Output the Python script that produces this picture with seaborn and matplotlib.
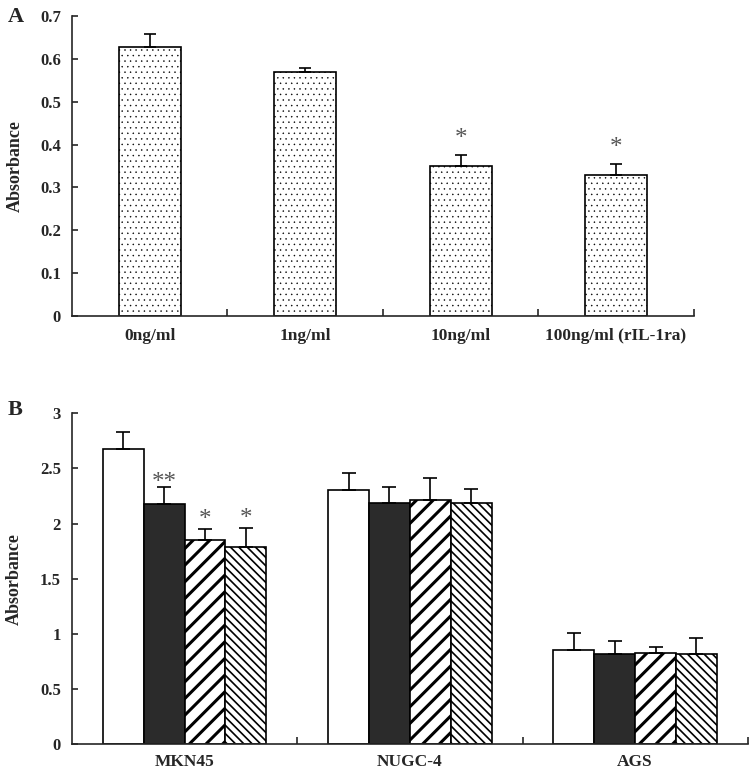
import seaborn as sns
import numpy as np
import pandas as pd
import matplotlib
matplotlib.use("Agg")
import matplotlib.pyplot as plt

sns.set_style("ticks")
plt.rcParams['font.family'] = ['Liberation Serif', 'DejaVu Serif']
plt.rcParams['font.weight'] = 'bold'
plt.rcParams['hatch.linewidth'] = 1.0

# panel A data
doses_a = ["0ng/ml", "1ng/ml", "10ng/ml", "100ng/ml (rIL-1ra)"]
absorb_a = [0.628, 0.570, 0.349, 0.330]
err_a = [0.031, 0.008, 0.027, 0.025]
star_a = ["", "", "*", "*"]

# panel B data
cells = ["MKN45", "NUGC-4", "AGS"]
groups = ["0ng/ml", "1ng/ml", "10ng/ml", "100ng/ml"]
absorb_b = {
    "0ng/ml":   [2.68, 2.305, 0.855],
    "1ng/ml":   [2.175, 2.185, 0.82],
    "10ng/ml":  [1.852, 2.218, 0.83],
    "100ng/ml": [1.79, 2.185, 0.82],
}
err_b = {
    "0ng/ml":   [0.15, 0.152, 0.151],
    "1ng/ml":   [0.155, 0.15, 0.12],
    "10ng/ml":  [0.10, 0.20, 0.055],
    "100ng/ml": [0.17, 0.13, 0.14],
}
star_b = {
    "0ng/ml":   ["", "", ""],
    "1ng/ml":   ["**", "", ""],
    "10ng/ml":  ["*", "", ""],
    "100ng/ml": ["*", "", ""],
}
colors_b = ["white", "#2b2b2b", "white", "white"]
hatches_b = ["", "", "//", "\\\\\\\\"]
hatch_lw_b = [1.0, 1.0, 2.2, 1.2]

fig = plt.figure(figsize=(7.5, 7.72), dpi=100)
ax1 = fig.add_axes([0.096, 0.591, 0.829, 0.388])
ax2 = fig.add_axes([0.096, 0.036, 0.901, 0.4286])

# ---- A ----
df_a = pd.DataFrame({"dose": doses_a, "abs": absorb_a})
sns.barplot(data=df_a, x="dose", y="abs", ax=ax1, color="white",
            edgecolor="black", linewidth=1.2, width=0.4, errorbar=None,
            hatch="...")
for p in ax1.patches:
    p.set_facecolor("white")
    if hasattr(p, "set_hatch_linewidth"):
        p.set_hatch_linewidth(0.3)
xs = [p.get_x() + p.get_width() / 2 for p in ax1.patches]
ax1.errorbar(xs, absorb_a, yerr=[np.zeros(4), err_a], fmt="none",
             ecolor="black", elinewidth=1.2, capsize=4, capthick=1.2)
for x, y, e, s in zip(xs, absorb_a, err_a, star_a):
    if s:
        ax1.text(x, y + e + 0.037, s, ha="center", va="center",
                 fontsize=18, color="#555555", fontweight="normal")
ax1.set_ylim(0, 0.7)
ax1.set_yticks(np.arange(0, 0.71, 0.1))
ax1.set_yticklabels(["0", "0.1", "0.2", "0.3", "0.4", "0.5", "0.6", "0.7"])

# ---- B ----
rows = []
for g in groups:
    for c, v in zip(cells, absorb_b[g]):
        rows.append({"cell": c, "group": g, "abs": v})
df_b = pd.DataFrame(rows)
sns.barplot(data=df_b, x="cell", y="abs", hue="group", hue_order=groups,
            ax=ax2, palette=colors_b, edgecolor="black", linewidth=1.2,
            width=0.725, gap=0, errorbar=None, legend=False, saturation=1)
for g, cont, h, hl in zip(groups, ax2.containers, hatches_b, hatch_lw_b):
    bx = []
    for p in cont.patches:
        p.set_hatch(h)
        if hasattr(p, "set_hatch_linewidth"):
            p.set_hatch_linewidth(hl)
        bx.append(p.get_x() + p.get_width() / 2)
    ax2.errorbar(bx, absorb_b[g], yerr=[np.zeros(3), err_b[g]], fmt="none",
                 ecolor="black", elinewidth=1.2, capsize=5, capthick=1.2)
    for x, y, e, s in zip(bx, absorb_b[g], err_b[g], star_b[g]):
        if s:
            off = 0.04 if s == "**" else 0.08
            ax2.text(x, y + e + off, s, ha="center", va="center",
                     fontsize=18, color="#555555", fontweight="normal")
ax2.set_ylim(0, 3)
ax2.set_yticks([0, 0.5, 1, 1.5, 2, 2.5, 3])
ax2.set_yticklabels(["0", "0.5", "1", "1.5", "2", "2.5", "3"])

for ax, n, pad in [(ax1, 4, 9), (ax2, 3, 7)]:
    sns.despine(ax=ax)
    ax.spines["left"].set_linewidth(1.2)
    ax.spines["bottom"].set_linewidth(1.2)
    ax.set_xlim(-0.5, n - 0.5)
    ax.set_xlabel("")
    ax.set_ylabel("Absorbance", fontsize=13, fontweight="bold", labelpad=12)
    ax.tick_params(axis="x", which="major", length=0, pad=pad, labelsize=12.5)
    ax.set_xticks(np.arange(n) + 0.5, minor=True)
    ax.tick_params(axis="x", which="minor", direction="in", length=5, width=1.2)
    ax.tick_params(axis="y", direction="in", length=4, width=1.2, labelsize=12, pad=8)
    for lab in ax.get_xticklabels() + ax.get_yticklabels():
        lab.set_fontweight("bold")

fig.text(0.010, 0.978, "A", fontsize=16, fontweight="bold", va="center")
fig.text(0.010, 0.469, "B", fontsize=16, fontweight="bold", va="center")

fig.savefig("out.png", dpi=100)
